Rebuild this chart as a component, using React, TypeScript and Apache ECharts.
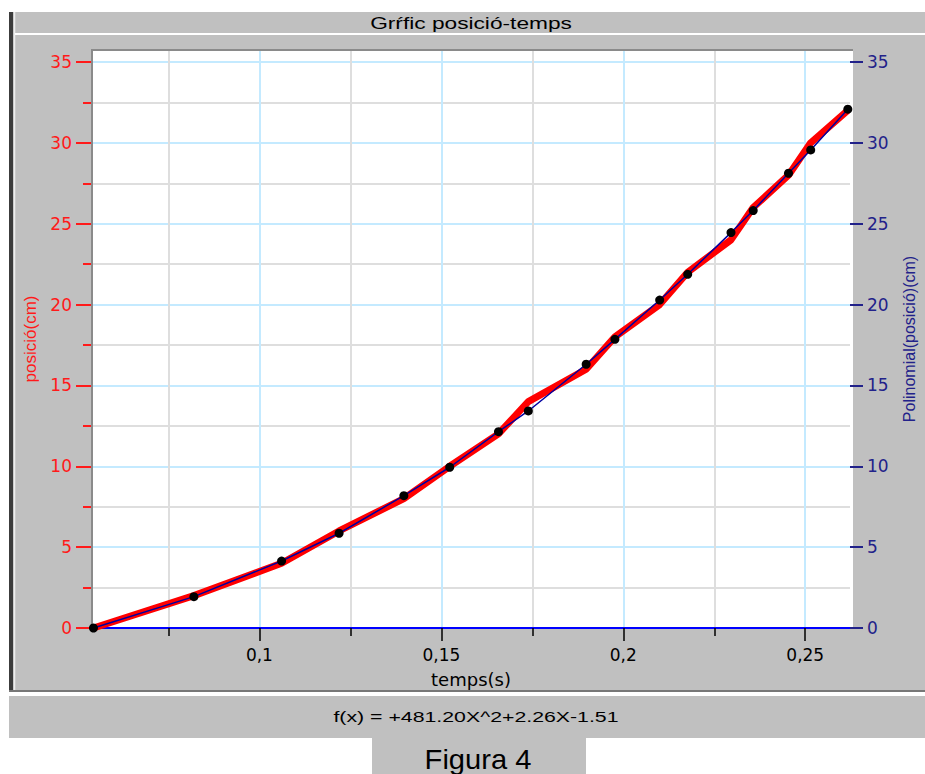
import React, { useEffect, useRef } from "react";
import * as echarts from "echarts";

// ---- data ----
const tempsS = [0.0544, 0.082, 0.1061, 0.1219, 0.1397, 0.1523, 0.1657, 0.1739, 0.1898, 0.1977, 0.21, 0.2177, 0.2296, 0.2357, 0.2454, 0.2515, 0.2617];
const posicioCm = [0, 2, 4, 6, 8, 10, 12, 14, 16, 18, 20, 22, 24, 26, 28, 30, 32];
const polinomialCm = [0, 1.94, 4.14, 5.86, 8.18, 9.94, 12.14, 13.42, 16.31, 17.85, 20.28, 21.87, 24.45, 25.81, 28.12, 29.56, 32.08];

const xMajorTicks = [0.1, 0.15, 0.2, 0.25];
const xMinorTicks = [0.075, 0.125, 0.175, 0.225];
const yMajorTicks = [0, 5, 10, 15, 20, 25, 30, 35];
const yMinorTicks = [2.5, 7.5, 12.5, 17.5, 22.5, 27.5, 32.5];

const X_MIN = 0.054;
const X_MAX = 0.2623;
const Y_MIN = 0;
const Y_MAX = 35.74;

const titleText = "Grŕfic posició-temps";
const formulaText = "f(x) = +481.20X^2+2.26X-1.51";
const figureText = "Figura 4";

const RED = "#ff1a1a";
const NAVY = "#22228a";
const GRID_BLUE = "#c4eaff";
const GRID_GRAY = "#dedede";
const FONT = "DejaVu Sans";
const ARIAL = "Liberation Sans";

export default function App() {
  const ref = useRef<HTMLDivElement>(null);

  useEffect(() => {
    if (!ref.current) return;
    const chart = echarts.init(ref.current, null, { renderer: "svg" });

    const redData = tempsS.map((t, i) => [t, posicioCm[i]]);
    const polyData = tempsS.map((t, i) => [t, polinomialCm[i]]);

    const option: any = {
      animation: false,
      backgroundColor: "#ffffff",
      grid: { left: 92, right: 72, top: 50, bottom: 146, show: false },
      graphic: [
        { type: "rect", z: -10, shape: { x: 9, y: 12, width: 916, height: 680 }, style: { fill: "#c0c0c0" } },
        { type: "rect", z: -9, shape: { x: 9, y: 12, width: 4, height: 680 }, style: { fill: "#3c3c3c" } },
        { type: "line", z: -9, shape: { x1: 14.5, y1: 12, x2: 14.5, y2: 690 }, style: { stroke: "#eeeeee", lineWidth: 1.5 } },
        { type: "line", z: -9, shape: { x1: 15, y1: 34, x2: 925, y2: 34 }, style: { stroke: "#ffffff", lineWidth: 2 } },
        { type: "line", z: -9, shape: { x1: 9, y1: 691, x2: 925, y2: 691 }, style: { stroke: "#777777", lineWidth: 2 } },
        { type: "line", z: -9, shape: { x1: 9, y1: 694.5, x2: 925, y2: 694.5 }, style: { stroke: "#ffffff", lineWidth: 2 } },
        { type: "rect", z: -10, shape: { x: 9, y: 696, width: 916, height: 42 }, style: { fill: "#c0c0c0" } },
        { type: "rect", z: -10, shape: { x: 372, y: 738, width: 214, height: 36 }, style: { fill: "#c0c0c0" } },
        { type: "rect", z: -8, shape: { x: 92, y: 50, width: 761, height: 578 }, style: { fill: "#ffffff" } },
        { type: "line", z: 1, shape: { x1: 91, y1: 50, x2: 853, y2: 50 }, style: { stroke: "#8a8a8a", lineWidth: 2 } },
        { type: "line", z: 1, shape: { x1: 92, y1: 49, x2: 92, y2: 628 }, style: { stroke: "#8a8a8a", lineWidth: 2 } },
        {
          type: "text", z: 10, x: 471, y: 23, scaleX: 1.42,
          style: { text: titleText, x: 0, y: 0, textAlign: "center", textVerticalAlign: "middle", align: "center", verticalAlign: "middle", fill: "#000", font: `16px "${ARIAL}"` },
        },
        {
          type: "text", z: 10, x: 476, y: 717, scaleX: 1.42,
          style: { text: formulaText, x: 0, y: 0, textAlign: "center", textVerticalAlign: "middle", align: "center", verticalAlign: "middle", fill: "#000", font: `15px "${ARIAL}"` },
        },
        {
          type: "text", z: 10, x: 478, y: 759, scaleX: 1.04,
          style: { text: figureText, x: 0, y: 0, textAlign: "center", textVerticalAlign: "middle", align: "center", verticalAlign: "middle", fill: "#000", font: `28px "${ARIAL}"` },
        },
      ],
      xAxis: [
        {
          type: "value", min: X_MIN, max: X_MAX, position: "bottom",
          axisLine: { show: false },
          axisTick: { show: true, customValues: xMinorTicks, length: 8, lineStyle: { color: "#000", width: 1.5 } },
          axisLabel: { show: false },
          splitLine: { show: true, lineStyle: { color: GRID_GRAY, width: 2 } },
        },
        {
          type: "value", min: X_MIN, max: X_MAX, position: "bottom",
          name: "temps(s)", nameLocation: "middle", nameGap: 42,
          nameTextStyle: { color: "#000", fontFamily: FONT, fontSize: 18 },
          axisLine: { show: true, onZero: false, lineStyle: { color: "#0000ff", width: 2 } },
          axisTick: { show: true, customValues: xMajorTicks, length: 13, lineStyle: { color: "#000", width: 1.5 } },
          axisLabel: {
            show: true, customValues: xMajorTicks, margin: 18, color: "#000", fontFamily: FONT, fontSize: 17,
            formatter: (v: number) => String(v).replace(".", ","),
          },
          splitLine: { show: true, lineStyle: { color: GRID_BLUE, width: 2 } },
        },
      ],
      yAxis: [
        {
          type: "value", min: Y_MIN, max: Y_MAX, position: "left",
          axisLine: { show: false },
          axisTick: { show: true, customValues: yMinorTicks, length: 9, lineStyle: { color: RED, width: 2 } },
          axisLabel: { show: false },
          splitLine: { show: true, lineStyle: { color: GRID_GRAY, width: 2 } },
        },
        {
          type: "value", min: Y_MIN, max: Y_MAX, position: "left",
          name: "posició(cm)", nameLocation: "middle", nameGap: 47,
          nameTextStyle: { color: RED, fontFamily: ARIAL, fontSize: 17 },
          axisLine: { show: false },
          axisTick: { show: true, customValues: yMajorTicks, length: 16, lineStyle: { color: RED, width: 2 } },
          axisLabel: { show: true, customValues: yMajorTicks, margin: 20, color: RED, fontFamily: FONT, fontSize: 17 },
          splitLine: { show: true, lineStyle: { color: GRID_BLUE, width: 2 } },
        },
        {
          type: "value", min: Y_MIN, max: Y_MAX, position: "right",
          name: "Polinomial(posició)(cm)", nameLocation: "middle", nameGap: 51,
          nameTextStyle: { color: NAVY, fontFamily: ARIAL, fontSize: 16 },
          axisLine: { show: false },
          axisTick: { show: true, customValues: yMajorTicks, length: 13, lineStyle: { color: NAVY, width: 2 } },
          axisLabel: { show: true, customValues: yMajorTicks, margin: 17, color: NAVY, fontFamily: FONT, fontSize: 17 },
          splitLine: { show: false },
        },
      ],
      series: [
        {
          name: "posició(cm)", type: "line", xAxisIndex: 1, yAxisIndex: 1,
          data: redData, showSymbol: false, symbol: "none",
          lineStyle: { color: "#ff0000", width: 7 }, z: 2,
        },
        {
          name: "Polinomial(posició)(cm)", type: "line", xAxisIndex: 1, yAxisIndex: 2,
          data: polyData, symbol: "circle", symbolSize: 9, showSymbol: true,
          itemStyle: { color: "#000000" },
          lineStyle: { color: "#0000a0", width: 1.5 }, z: 3,
        },
      ],
    };

    chart.setOption(option);
    return () => chart.dispose();
  }, []);

  return (
    <div
      ref={ref}
      style={{ position: "absolute", left: 0, top: 0, width: 925, height: 774 }}
    />
  );
}
